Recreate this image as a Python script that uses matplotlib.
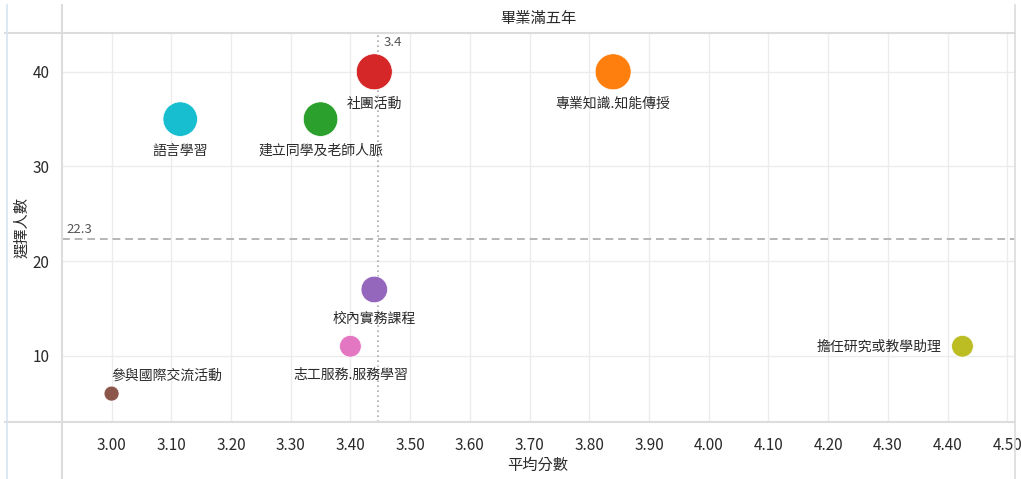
import numpy as np
import matplotlib.pyplot as plt
from matplotlib.lines import Line2D

plt.rcParams['font.family'] = ['Noto Sans CJK TC', 'DejaVu Sans']

# ── data ─────────────────────────────────────────────
items = ["社團活動", "語言學習", "建立同學及老師人脈", "專業知識.知能傳授",
         "校內實務課程", "志工服務.服務學習", "參與國際交流活動", "擔任研究或教學助理"]
avg_score = [3.44, 3.115, 3.35, 3.84, 3.44, 3.40, 3.00, 4.425]
counts = [40, 35, 35, 40, 17, 11, 6, 11]
colors = ["#d62728", "#17becf", "#2ca02c", "#ff7f0e",
          "#9467bd", "#e377c2", "#8c564b", "#bcbd22"]
mean_x = 3.446
mean_y = 22.3

# label placement: (dx, dy in points, ha, va)
label_pos = [(0, -23, "center", "center")] * 4 + [(0, -21, "center", "center")] * 2 + \
            [(0, 13, "left", "center"), (-15, 0, "right", "center")]

W, H = 1021, 479
fig = plt.figure(figsize=(W / 100, H / 100), dpi=100)
ax = fig.add_axes([62 / W, (H - 421.5) / H, (1015 - 62) / W, (421.5 - 33) / H])

ax.set_xlim(2.917, 4.513)
ax.set_ylim(3.05, 44.1)
ax.set_xticks([3.0 + 0.1 * i for i in range(16)])
ax.set_xticklabels([f"{3.0 + 0.1 * i:.2f}" for i in range(16)])
ax.set_yticks([10, 20, 30, 40])
ax.grid(True, color="#ececec", linewidth=1)
ax.set_axisbelow(True)
ax.tick_params(length=0, labelsize=11, colors="#2a2a2a")
ax.tick_params(axis="x", pad=11)
ax.tick_params(axis="y", pad=9)
for s in ax.spines.values():
    s.set_visible(False)

# reference lines
ax.axvline(mean_x, color="#aaaaaa", linestyle=(0, (1, 2)), linewidth=1.2, zorder=1)
ax.axhline(mean_y, color="#b5b5b5", linestyle=(0, (4, 2.5)), linewidth=1.4, zorder=1)
ax.annotate("3.4", (mean_x, 44.1), xytext=(4, -7), textcoords="offset points",
            fontsize=9.5, color="#555555", ha="left", va="center")
ax.annotate("22.3", (2.917, mean_y), xytext=(3, 7), textcoords="offset points",
            fontsize=9.5, color="#555555", ha="left", va="center")

# bubbles: diameter grows with log of the count
diam_px = 15 + 11.05 * np.log(np.array(counts) / 6)
ax.scatter(avg_score, counts, s=(diam_px * 0.72) ** 2, c=colors,
           edgecolors="white", linewidths=0.5, zorder=3)
for name, x, y, (dx, dy, ha, va) in zip(items, avg_score, counts, label_pos):
    ax.annotate(name, (x, y), xytext=(dx, dy), textcoords="offset points",
                fontsize=10, color="#2a2a2a", ha=ha, va=va, zorder=4)

# frame lines of the table-like layout
frame = "#dcdcdc"
fig.add_artist(Line2D([62 / W, 62 / W], [0, 1 - 5 / H], color=frame, lw=1.5))
fig.add_artist(Line2D([5 / W, 1015 / W], [1 - 33 / H, 1 - 33 / H], color=frame, lw=1.5))
fig.add_artist(Line2D([5 / W, 1015 / W], [(H - 421.5) / H] * 2, color=frame, lw=1.5))
fig.add_artist(Line2D([1015 / W, 1015 / W], [0, 1 - 5 / H], color=frame, lw=1.2))
fig.add_artist(Line2D([7 / W, 7 / W], [0, 1 - 5 / H], color="#d6e4f2", lw=1.2))

fig.text(538 / W, 1 - 18 / H, "畢業滿五年", fontsize=11, color="#2a2a2a",
         ha="center", va="center")
fig.text(538 / W, 1 - 465 / H, "平均分數", fontsize=11, color="#2a2a2a",
         ha="center", va="center")
fig.text(22 / W, 1 - 228 / H, "選擇人數", fontsize=11, color="#2a2a2a",
         ha="center", va="center", rotation=90)

fig.savefig("out.png", dpi=100)
